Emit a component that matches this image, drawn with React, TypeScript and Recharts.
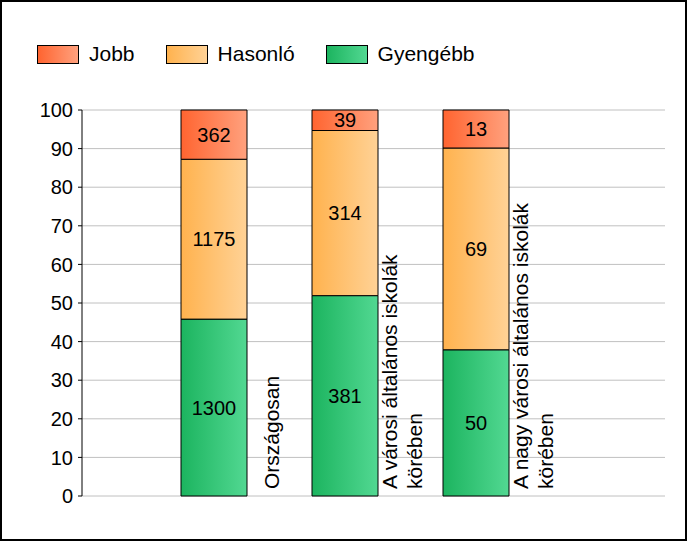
import React from 'react';
import { BarChart, Bar, XAxis, YAxis, CartesianGrid, Legend, LabelList } from 'recharts';

// kategóriák, a "|" sortörést jelöl a forgatott feliratban
const categories = [
  'Országosan',
  'A városi általános iskolák|körében',
  'A nagy városi általános iskolák|körében',
];
const gyengebb = [1300, 381, 50];
const hasonlo = [1175, 314, 69];
const jobb = [362, 39, 13];
const yTicks = [0, 10, 20, 30, 40, 50, 60, 70, 80, 90, 100];

const series = [
  { key: 'gyengebb', name: 'Gyengébb', grad: 'gGreen', from: '#1cb45f', to: '#52d892' },
  { key: 'hasonlo', name: 'Hasonló', grad: 'gOrange', from: '#ffb24e', to: '#ffd296' },
  { key: 'jobb', name: 'Jobb', grad: 'gRed', from: '#ff6430', to: '#ffa17e' },
];

const data = categories.map((name, i) => ({
  name,
  gyengebb: gyengebb[i],
  hasonlo: hasonlo[i],
  jobb: jobb[i],
}));

const FONT = '"Liberation Sans", Arial, sans-serif';

function CategoryLabel(props: any) {
  const vb = props.viewBox || props;
  const x = Number(vb.x) || 0;
  const y = Number(vb.y) || 0;
  const w = Number(vb.width) || 0;
  const h = Number(vb.height) || 0;
  const lines = String(props.value || '').split('|');
  const right = x + w;
  const bottom = y + h - 7;
  const first = 32 - (lines.length - 1) * 13;
  return (
    <text
      transform={`translate(${right}, ${bottom}) rotate(-90)`}
      fontSize={21}
      fill="#000"
      fontFamily={FONT}
    >
      {lines.map((l, i) => (
        <tspan key={i} x={0} y={first + i * 25}>
          {l}
        </tspan>
      ))}
    </text>
  );
}

function LegendBox() {
  // a jelmagyarázat sorrendje: Jobb, Hasonló, Gyengébb
  const items = [series[2], series[1], series[0]];
  return (
    <div style={{ display: 'flex', alignItems: 'center', height: 20, fontFamily: FONT, fontSize: 21 }}>
      {items.map((s) => (
        <div key={s.key} style={{ display: 'flex', alignItems: 'center', marginRight: 31 }}>
          <div
            style={{
              width: 40,
              height: 17,
              border: '1px solid #000',
              background: `linear-gradient(to right, ${s.from}, ${s.to})`,
              marginRight: 10,
            }}
          />
          <span style={{ color: '#000' }}>{s.name}</span>
        </div>
      ))}
    </div>
  );
}

export default function App() {
  return (
    <div
      style={{
        position: 'absolute',
        left: 0,
        top: 0,
        width: 687,
        height: 541,
        boxSizing: 'border-box',
        border: '2px solid #000',
        background: '#fff',
        fontFamily: FONT,
      }}
    >
      <div style={{ position: 'absolute', left: -2, top: -2 }}>
        <BarChart
          width={687}
          height={541}
          data={data}
          stackOffset="expand"
          margin={{ top: 90, right: 22, bottom: 45, left: 0 }}
          barSize={66}
        >
          <defs>
            {series.map((s) => (
              <linearGradient key={s.grad} id={s.grad} x1="0" y1="0" x2="1" y2="0">
                <stop offset="0%" stopColor={s.from} />
                <stop offset="100%" stopColor={s.to} />
              </linearGradient>
            ))}
          </defs>
          <Legend
            verticalAlign="top"
            align="left"
            content={() => <LegendBox />}
            wrapperStyle={{ top: 44, left: 37 }}
          />
          <CartesianGrid vertical={false} stroke="#c0c0c0" strokeWidth={1} />
          <XAxis
            dataKey="name"
            tick={false}
            tickLine={false}
            height={0}
            axisLine={{ stroke: '#000' }}
            padding={{ left: 66, right: 124 }}
          />
          <YAxis
            width={82}
            ticks={yTicks.map((t) => t / 100)}
            domain={[0, 1]}
            interval={0}
            tickFormatter={(v: number) => String(Math.round(v * 100))}
            tick={{ fill: '#000', fontSize: 20 }}
            tickSize={4}
            tickMargin={5}
            tickLine={{ stroke: '#000' }}
            axisLine={{ stroke: '#000' }}
          />
          {series.map((s) => (
            <Bar
              key={s.key}
              dataKey={s.key}
              name={s.name}
              stackId="a"
              fill={`url(#${s.grad})`}
              stroke="#000"
              strokeWidth={1}
              isAnimationActive={false}
            >
              <LabelList dataKey={s.key} position="center" fill="#000" fontSize={20} />
              {s.key === 'gyengebb' ? <LabelList dataKey="name" content={<CategoryLabel />} /> : null}
            </Bar>
          ))}
        </BarChart>
      </div>
    </div>
  );
}
